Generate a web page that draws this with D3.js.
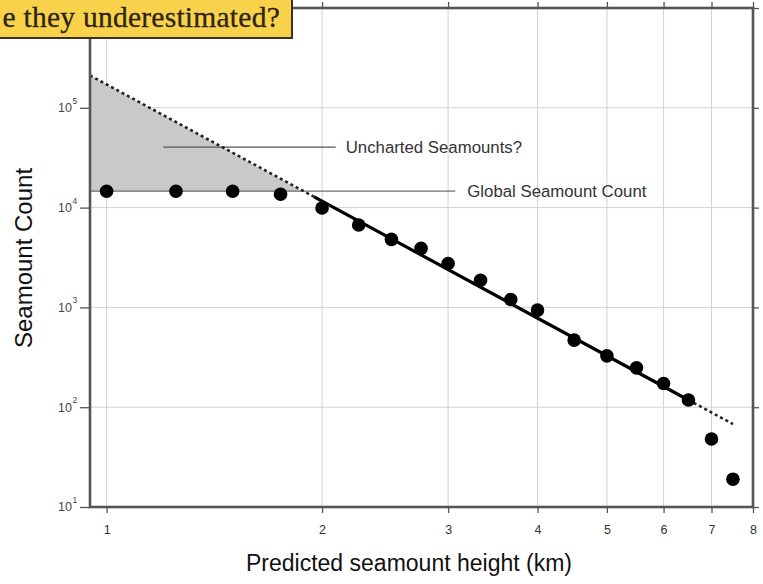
<!DOCTYPE html>
<html>
<head>
<meta charset="utf-8">
<script src="https://cdn.jsdelivr.net/npm/d3@7"></script>
<style>
html,body{margin:0;padding:0;background:#fff;}
svg{display:block;}
</style>
</head>
<body>
<svg id="chart" width="763" height="584"></svg>
<script>
// ---- data ----
const heights = [1, 1.25, 1.5, 1.75, 2, 2.25, 2.5, 2.75, 3, 3.33, 3.67, 4, 4.5, 5, 5.5, 6, 6.5, 7, 7.5];
const counts  = [14600, 14600, 14600, 13600, 9900, 6700, 4800, 3900, 2750, 1870, 1200, 940, 470, 327, 248, 173, 118, 48, 19];
// power-law fit line (straight on log-log): dashed-solid-dashed segments
const fitDashLeftX  = [0.948, 1.95];
const fitDashLeftY  = [211000, 12800];
const fitSolidX     = [1.95, 6.5];
const fitSolidY     = [12800, 118];
const fitDashRightX = [6.5, 7.5];
const fitDashRightY = [118, 67.8];
const globalCount = 14600;
const shadeX = [0.948, 1.88, 0.948];
const shadeY = [211000, 14600, 14600];
const xTicks = [1, 2, 3, 4, 5, 6, 7, 8];
const yTicks = [1e1, 1e2, 1e3, 1e4, 1e5, 1e6];
const yTickExp = ["1", "2", "3", "4", "5", "6"];
const titleText = "e they underestimated?";
const xTitle = "Predicted seamount height (km)";
const yTitle = "Seamount Count";
const labelUncharted = "Uncharted Seamounts?";
const labelGlobal = "Global Seamount Count";

(function(){
// ---- layout ----
const pL = 90, pR = 753, pT = 8, pB = 507;
const svg = d3.select("#chart");
const x = d3.scaleLog().domain([0.948, 8]).range([pL, pR]);
const y = d3.scaleLog().domain([10, 1e6]).range([pB, pT]);
const sans = "'Liberation Sans', Arial, Helvetica, sans-serif";

// grid
const grid = svg.append("g").attr("stroke", "#d2d2d2").attr("stroke-width", 1);
grid.selectAll("line.vx").data(xTicks).join("line").attr("class","vx")
  .attr("x1", d => x(d)).attr("x2", d => x(d)).attr("y1", pT).attr("y2", pB);
grid.selectAll("line.hy").data(yTicks).join("line").attr("class","hy")
  .attr("y1", d => y(d)).attr("y2", d => y(d)).attr("x1", pL).attr("x2", pR);

// shaded region
svg.append("path")
  .attr("d", d3.line().x((d,i)=>x(shadeX[i])).y((d,i)=>y(shadeY[i]))(shadeX) + "Z")
  .attr("fill", "#c9c9c9").attr("stroke", "none");

// global count line
const uXmax = 3.07;
svg.append("line")
  .attr("x1", pL).attr("x2", x(uXmax))
  .attr("y1", y(globalCount)).attr("y2", y(globalCount))
  .attr("stroke", "#6e6e6e").attr("stroke-width", 1.3);
svg.append("text").text(labelGlobal)
  .attr("x", x(uXmax) + 12).attr("y", y(globalCount)).attr("dy", "0.35em")
  .attr("font-family", sans).attr("font-size", 16.8).attr("fill", "#333");

// uncharted label
const unchY = 40300;
svg.append("line")
  .attr("x1", x(1.2)).attr("x2", x(2.09))
  .attr("y1", y(unchY)).attr("y2", y(unchY))
  .attr("stroke", "#555").attr("stroke-width", 1.3);
svg.append("text").text(labelUncharted)
  .attr("x", x(2.09) + 10).attr("y", y(unchY)).attr("dy", "0.35em")
  .attr("font-family", sans).attr("font-size", 16.8).attr("fill", "#333");

// fit lines
const seg = (xs, ys) => d3.line().x((d,i)=>x(xs[i])).y((d,i)=>y(ys[i]))(xs);
svg.append("path").attr("d", seg(fitDashLeftX, fitDashLeftY))
  .attr("stroke", "#222").attr("stroke-width", 2.6).attr("stroke-dasharray", "3,3").attr("fill", "none");
svg.append("path").attr("d", seg(fitDashRightX, fitDashRightY))
  .attr("stroke", "#222").attr("stroke-width", 2.6).attr("stroke-dasharray", "3,3").attr("fill", "none");
svg.append("path").attr("d", seg(fitSolidX, fitSolidY))
  .attr("stroke", "#000").attr("stroke-width", 3.2).attr("fill", "none");

// points
svg.append("g").selectAll("circle").data(heights).join("circle")
  .attr("cx", d => x(d)).attr("cy", (d,i) => y(counts[i])).attr("r", 6.8).attr("fill", "#000");

// frame
svg.append("rect").attr("x", pL).attr("y", pT).attr("width", pR-pL).attr("height", pB-pT)
  .attr("fill", "none").attr("stroke", "#555").attr("stroke-width", 2.6);

// axes ticks
const axB = d3.axisBottom(x).tickValues(xTicks).tickFormat(d3.format("d")).tickSize(6).tickPadding(12);
const gB = svg.append("g").attr("transform", `translate(0,${pB})`).call(axB);
gB.select(".domain").remove();
gB.selectAll("line").attr("stroke", "#555").attr("stroke-width", 1.3);
gB.selectAll("text").attr("font-family", sans).attr("font-size", 12.5).attr("fill", "#333");

const axT = d3.axisTop(x).tickValues(xTicks).tickFormat("").tickSize(6);
const gT = svg.append("g").attr("transform", `translate(0,${pT})`).call(axT);
gT.select(".domain").remove();
gT.selectAll("line").attr("stroke", "#555").attr("stroke-width", 1.3);

const axL = d3.axisLeft(y).tickValues(yTicks).tickFormat("").tickSize(10);
const gL = svg.append("g").attr("transform", `translate(${pL},0)`).call(axL);
gL.select(".domain").remove();
gL.selectAll("line").attr("stroke", "#555").attr("stroke-width", 1.3);
svg.append("g").selectAll("text").data(yTicks.slice(0,5)).join("text")
  .attr("x", 72).attr("y", d => y(d)).attr("dy", "0.35em").attr("text-anchor", "end")
  .attr("font-family", sans).attr("font-size", 12.5).attr("fill", "#444")
  .text("10");
svg.append("g").selectAll("text").data(yTicks.slice(0,5)).join("text")
  .attr("x", 72.5).attr("y", d => y(d) - 4)
  .attr("font-family", sans).attr("font-size", 8.5).attr("fill", "#444")
  .text((d,i) => yTickExp[i]);

const axR = d3.axisRight(y).tickValues(yTicks).tickFormat("").tickSize(6);
const gR = svg.append("g").attr("transform", `translate(${pR},0)`).call(axR);
gR.select(".domain").remove();
gR.selectAll("line").attr("stroke", "#555").attr("stroke-width", 1.3);

// axis titles
svg.append("text").text(xTitle)
  .attr("x", 409).attr("y", 563).attr("dy", "0.35em").attr("text-anchor", "middle")
  .attr("font-family", sans).attr("font-size", 23).attr("fill", "#111");
svg.append("text").text(yTitle)
  .attr("transform", "translate(24,258) rotate(-90)").attr("dy", "0.35em").attr("text-anchor", "middle")
  .attr("font-family", sans).attr("font-size", 24).attr("fill", "#111");

// title box
svg.append("rect").attr("x", -5).attr("y", -5).attr("width", 297).attr("height", 43)
  .attr("fill", "#f8d24a").attr("stroke", "#3b3120").attr("stroke-width", 2);
svg.append("text").text(titleText)
  .attr("x", 280).attr("y", 27).attr("text-anchor", "end")
  .attr("font-family", "'Liberation Serif', 'Times New Roman', serif").attr("font-size", 29.5)
  .attr("letter-spacing", 0.25)
  .attr("fill", "#2e2414").attr("stroke", "#2e2414").attr("stroke-width", 0.3);
})();
</script>
</body>
</html>
